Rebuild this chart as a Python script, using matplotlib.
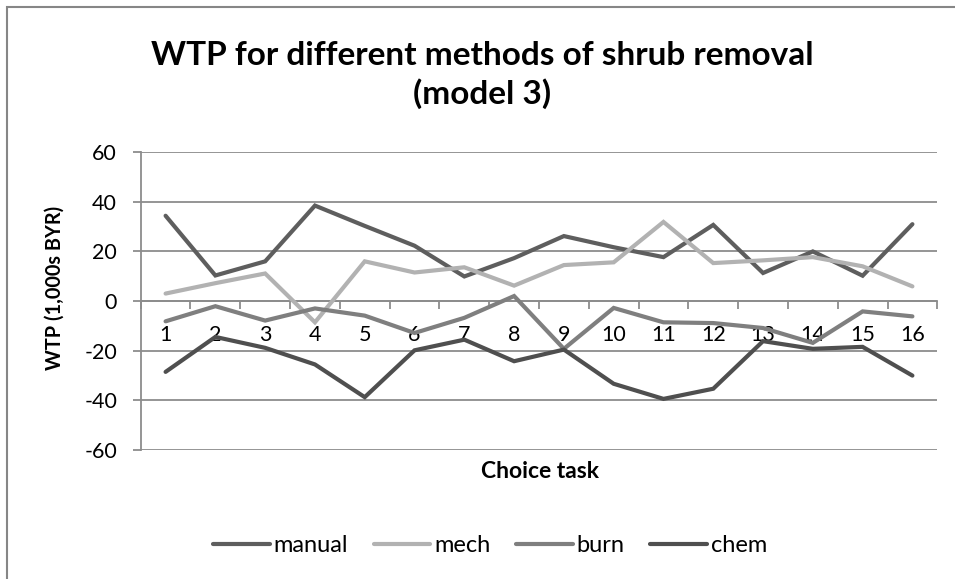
import matplotlib
matplotlib.use("Agg")
import matplotlib.pyplot as plt
from matplotlib.patches import Rectangle

plt.rcParams['font.family'] = ['Lato', 'DejaVu Sans']

tasks = list(range(1, 17))
tick_labels = [str(t) for t in tasks]
manual = [34.4, 10.3, 16.0, 38.5, 30.3, 22.3, 9.9, 17.3, 26.2, 21.7, 17.7, 30.7, 11.3, 20.0, 10.2, 31.0]
mech = [3.0, 7.2, 11.1, -8.6, 16.0, 11.5, 13.6, 6.2, 14.5, 15.6, 31.9, 15.3, 16.4, 17.7, 14.0, 5.9]
burn = [-8.2, -2.1, -7.9, -3.0, -5.9, -12.9, -6.8, 2.0, -19.3, -2.8, -8.6, -8.9, -10.9, -16.9, -4.2, -6.2]
chem = [-28.6, -14.5, -18.9, -25.6, -38.8, -19.9, -15.6, -24.3, -19.6, -33.4, -39.5, -35.4, -16.2, -19.3, -18.5, -30.1]

series = [("manual", manual, "#5e5e5e"), ("mech", mech, "#b2b2b2"),
          ("burn", burn, "#7f7f7f"), ("chem", chem, "#4f4f4f")]

W, H = 955, 579
fig = plt.figure(figsize=(W / 100, H / 100), dpi=100)
ax = fig.add_axes([140.7 / W, 1 - 449.7 / H, (937.3 - 140.7) / W, (449.7 - 152.3) / H])

grid_c = "#8c8c8c"
for name, vals, col in series:
    ax.plot(tasks, vals, color=col, lw=3.0, solid_capstyle='round', solid_joinstyle='miter', label=name, zorder=3)

ax.set_xlim(0.5, 16.5)
ax.set_ylim(-60, 60)
ax.set_yticks(range(-60, 61, 20))
ax.set_yticklabels([str(v) for v in range(-60, 61, 20)])
ax.yaxis.grid(True, color=grid_c, lw=1.3)
ax.set_axisbelow(True)

for s in ['top', 'right']:
    ax.spines[s].set_visible(False)
ax.spines['left'].set_color(grid_c)
ax.spines['left'].set_linewidth(1.3)
ax.spines['bottom'].set_position(('data', 0))
ax.spines['bottom'].set_color(grid_c)
ax.spines['bottom'].set_linewidth(1.3)

ax.set_xticks([i + 0.5 for i in range(0, 17)])
ax.set_xticklabels([])
ax.set_xticks(tasks, minor=True)
ax.set_xticklabels(tick_labels, minor=True)
ax.tick_params(axis='x', which='major', length=5.5, width=1.3, color=grid_c, direction='out')
ax.tick_params(axis='x', which='minor', length=0, pad=17, labelsize=15.5, labelcolor='black')
ax.tick_params(axis='y', length=6, width=1.3, color=grid_c, pad=11, labelsize=15.5)

fig.text(482 / W, 1 - 75 / H, "WTP for different methods of shrub removal\n(model 3)",
         ha='center', va='center', fontsize=24, fontweight='bold', linespacing=1.3)
fig.text(55 / W, 1 - 288 / H, "WTP (1,000s BYR)", rotation=90, ha='center', va='center',
         fontsize=14.3, fontweight='bold')
fig.text(540 / W, 1 - 471 / H, "Choice task", ha='center', va='center', fontsize=16.5, fontweight='bold')

leg = fig.legend(loc='center', bbox_to_anchor=(490 / W, 1 - 546 / H), ncol=4, frameon=False,
                 fontsize=17, handlelength=2.4, handletextpad=0.15, columnspacing=1.1)

fig.patches.append(Rectangle((7 / W, -0.1), 1.2, 1 - 7 / H + 0.1, transform=fig.transFigure,
                             fill=False, edgecolor='#868686', lw=1.5))

fig.savefig("out.png", dpi=100)
